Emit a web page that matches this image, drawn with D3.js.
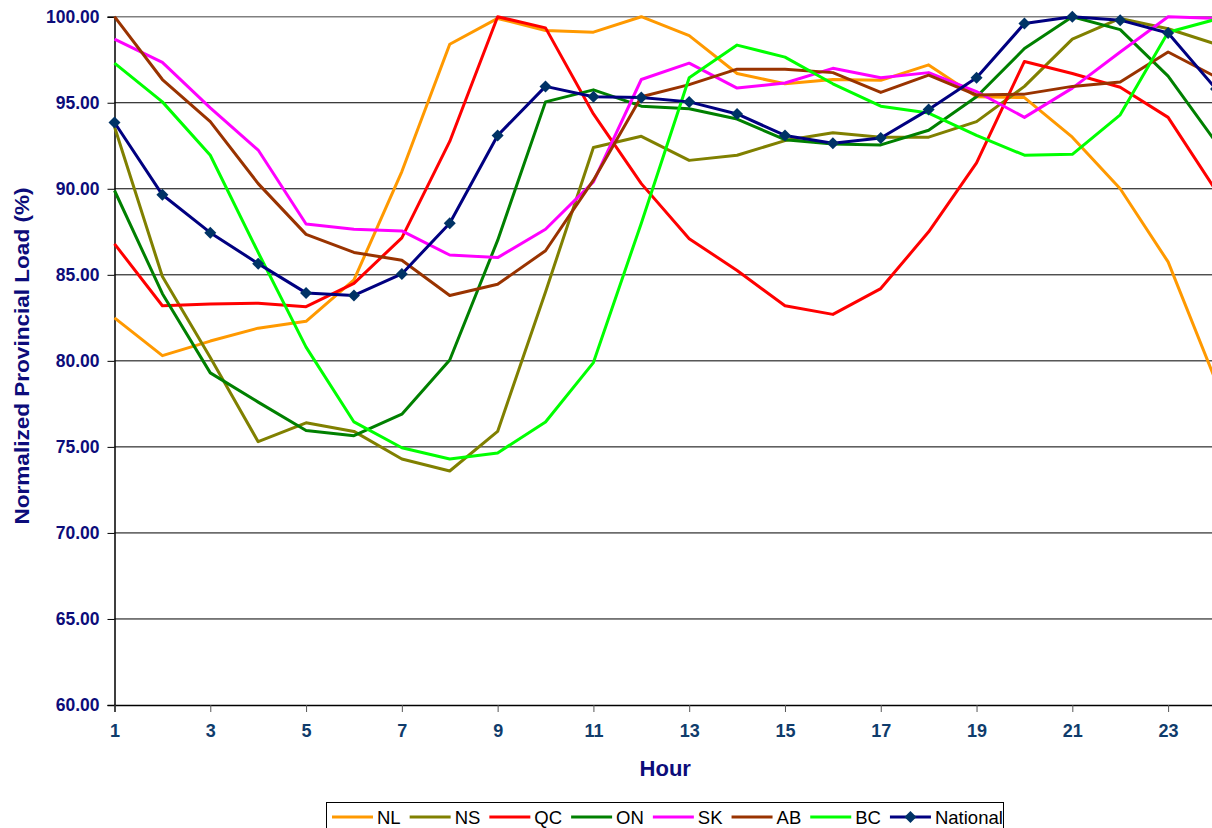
<!DOCTYPE html>
<html>
<head>
<meta charset="utf-8">
<script src="https://cdn.jsdelivr.net/npm/d3@7"></script>
<style>
  body { margin: 0; background: #fff; }
  svg { display: block; font-family: "Liberation Sans", Arial, sans-serif; }
</style>
</head>
<body>
<div id="chart"></div>
<script>
// Hourly normalized load per province
const hours = [1, 2, 3, 4, 5, 6, 7, 8, 9, 10, 11, 12, 13, 14, 15, 16, 17, 18, 19, 20, 21, 22, 23, 24];
const xTicks = [1, 3, 5, 7, 9, 11, 13, 15, 17, 19, 21, 23];
const yTicks = [60, 65, 70, 75, 80, 85, 90, 95, 100];

const NL = [82.5, 80.3, 81.15, 81.9, 82.3, 84.7, 91.0, 98.4, 99.9, 99.2, 99.1, 100.0, 98.9, 96.7, 96.1, 96.35, 96.3, 97.2, 95.35, 95.3, 93.0, 90.0, 85.75, 78.8];
const NS = [93.6, 84.9, 80.2, 75.3, 76.4, 75.9, 74.3, 73.6, 75.9, 84.0, 92.4, 93.05, 91.65, 91.95, 92.8, 93.25, 93.0, 93.0, 93.9, 95.95, 98.7, 99.9, 99.3, 98.4];
const QC = [86.8, 83.2, 83.3, 83.35, 83.15, 84.5, 87.15, 92.75, 100.0, 99.35, 94.35, 90.3, 87.1, 85.25, 83.2, 82.7, 84.2, 87.5, 91.5, 97.4, 96.7, 95.9, 94.15, 89.9];
const ON = [89.9, 83.9, 79.3, 77.6, 75.95, 75.65, 76.9, 80.05, 87.0, 95.05, 95.75, 94.8, 94.65, 94.05, 92.85, 92.6, 92.55, 93.4, 95.35, 98.15, 100.0, 99.25, 96.55, 92.7];
const SK = [98.7, 97.35, 94.7, 92.25, 87.95, 87.65, 87.55, 86.15, 86.0, 87.65, 90.4, 96.35, 97.3, 95.85, 96.15, 97.0, 96.45, 96.75, 95.65, 94.15, 95.85, 97.95, 100.0, 99.9];
const AB = [100.0, 96.35, 93.9, 90.3, 87.35, 86.3, 85.85, 83.8, 84.45, 86.4, 90.5, 95.35, 96.05, 96.95, 96.95, 96.75, 95.6, 96.6, 95.45, 95.5, 95.95, 96.2, 97.95, 96.5];
const BC = [97.3, 95.05, 91.95, 86.3, 80.8, 76.45, 74.95, 74.3, 74.65, 76.45, 79.9, 88.0, 96.45, 98.35, 97.65, 96.1, 94.8, 94.4, 93.1, 91.95, 92.0, 94.3, 99.1, 99.85];
const National = [93.85, 89.65, 87.45, 85.65, 83.95, 83.8, 85.05, 88.0, 93.1, 95.95, 95.35, 95.3, 95.05, 94.35, 93.1, 92.65, 92.95, 94.6, 96.45, 99.6, 100.0, 99.8, 99.05, 95.8];

const seriesNames = ["NL", "NS", "QC", "ON", "SK", "AB", "BC", "National"];
const seriesValues = [NL, NS, QC, ON, SK, AB, BC, National];
const seriesColors = ["#ff9900", "#808000", "#ff0000", "#008000", "#ff00ff", "#993300", "#00ff00", "#000080"];

const w = 1212;
const h = 828;
const padLeft = 114.5;
const padRight = 1216;   // hour 24 sits just past the visible edge
const padTop = 16.7;
const padBottom = 705;

const svg = d3.select("#chart")
    .append("svg")
    .attr("width", w)
    .attr("height", h);

const xScale = d3.scaleLinear().domain([1, 24]).range([padLeft, padRight]);
const yScale = d3.scaleLinear().domain([60, 100]).range([padBottom, padTop]);

// Gridlines
svg.append("g")
    .selectAll("line")
    .data(yTicks.filter(d => d > 60))
    .enter()
    .append("line")
        .attr("x1", padLeft)
        .attr("x2", w)
        .attr("y1", d => yScale(d))
        .attr("y2", d => yScale(d))
        .attr("stroke", d => d === 100 ? "#808080" : "#000")
        .attr("stroke-width", d => d === 100 ? 1.6 : 1);

// Y axis
const yAxis = d3.axisLeft(yScale)
    .tickValues(yTicks)
    .tickSize(7)
    .tickPadding(8)
    .tickFormat(d3.format(".2f"));

const yG = svg.append("g")
    .attr("transform", "translate(" + padLeft + ",0)")
    .call(yAxis);
yG.select(".domain").attr("stroke", "#000").attr("stroke-width", 1.5);
yG.selectAll(".tick line").attr("stroke", "#000");
yG.selectAll(".tick text")
    .attr("fill", "#0c0c7a")
    .attr("font-size", 17.5)
    .attr("font-weight", "bold")
    .attr("font-family", "'Liberation Sans', Arial, sans-serif");

// X axis
const xAxis = d3.axisBottom(xScale)
    .tickValues(xTicks)
    .tickSize(7)
    .tickPadding(12)
    .tickFormat(d3.format("d"));

const xG = svg.append("g")
    .attr("transform", "translate(0," + padBottom + ")")
    .call(xAxis);
xG.select(".domain").attr("stroke", "#000").attr("stroke-width", 1.5);
xG.selectAll(".tick line").attr("stroke", "#555");
xG.selectAll(".tick text")
    .attr("fill", "#0f3c6c")
    .attr("font-size", 18)
    .attr("font-weight", "bold")
    .attr("font-family", "'Liberation Sans', Arial, sans-serif");

// Lines
const line = d3.line()
    .x((d, i) => xScale(hours[i]))
    .y(d => yScale(d));

svg.append("g")
    .selectAll("path")
    .data(seriesValues)
    .enter()
    .append("path")
        .attr("d", d => line(d))
        .attr("fill", "none")
        .attr("stroke", (d, i) => seriesColors[i])
        .attr("stroke-width", 3)
        .attr("stroke-linejoin", "round");

// National markers
const diamond = d3.symbol(d3.symbolSquare, 72);
svg.append("g")
    .selectAll("path")
    .data(National)
    .enter()
    .append("path")
        .attr("d", diamond)
        .attr("transform", (d, i) => "translate(" + xScale(hours[i]) + "," + yScale(d) + ") rotate(45)")
        .attr("fill", "#003366");

// Axis titles
svg.append("text")
    .attr("text-anchor", "middle")
    .attr("x", (padLeft + padRight) / 2)
    .attr("y", 776)
    .attr("font-size", 22)
    .attr("font-weight", "bold")
    .attr("fill", "#0c0c7a")
    .text("Hour");

svg.append("text")
    .attr("text-anchor", "middle")
    .attr("transform", "rotate(-90)")
    .attr("x", -356)
    .attr("y", 28.5)
    .attr("font-size", 21)
    .attr("font-weight", "bold")
    .attr("fill", "#0c0c7a")
    .attr("textLength", 337)
    .attr("lengthAdjust", "spacingAndGlyphs")
    .text("Normalized Provincial Load (%)");

// Legend
const legend = svg.append("g");
legend.append("rect")
    .attr("x", 326.5)
    .attr("y", 802.5)
    .attr("width", 677)
    .attr("height", 40)
    .attr("fill", "#fff")
    .attr("stroke", "#000")
    .attr("stroke-width", 1);

let lx = 332;
const ly = 817;
seriesNames.forEach((name, i) => {
    legend.append("line")
        .attr("x1", lx)
        .attr("x2", lx + 41)
        .attr("y1", ly)
        .attr("y2", ly)
        .attr("stroke", seriesColors[i])
        .attr("stroke-width", 3);
    if (name === "National") {
        legend.append("path")
            .attr("d", diamond)
            .attr("transform", "translate(" + (lx + 20.5) + "," + ly + ") rotate(45)")
            .attr("fill", "#003366");
    }
    const t = legend.append("text")
        .attr("x", lx + 45)
        .attr("y", ly)
        .attr("dy", "0.36em")
        .attr("font-size", 18.5)
        .attr("fill", "#000")
        .text(name);
    lx = lx + 45 + t.node().getComputedTextLength() + 9;
});
</script>
</body>
</html>
